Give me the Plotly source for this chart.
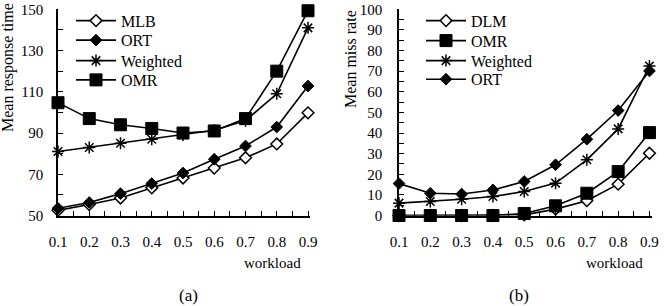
import plotly.graph_objects as go

W, H = 666, 306
workload = [0.1, 0.2, 0.3, 0.4, 0.5, 0.6, 0.7, 0.8, 0.9]

# (a) Mean response time
mlb_a = [52.5, 55.3, 58.5, 63.4, 68.2, 73.0, 78.0, 84.7, 99.8]
ort_a = [53.5, 56.3, 60.6, 65.5, 70.6, 77.3, 83.7, 92.9, 112.8]
weighted_a = [81.0, 83.0, 85.0, 87.0, 89.0, 91.3, 96.0, 109.0, 141.0]
omr_a = [104.7, 97.0, 94.0, 92.2, 90.0, 91.0, 97.0, 120.0, 149.3]

# (b) Mean miss rate
dlm_b = [0, 0, 0, 0, 0.3, 3.1, 7.2, 15.2, 30.2]
omr_b = [0, 0, 0, 0, 1.0, 4.7, 10.8, 21.3, 40.2]
weighted_b = [6.0, 6.8, 7.9, 9.2, 11.6, 15.7, 27.0, 42.0, 72.5]
ort_b = [15.5, 10.8, 10.4, 12.4, 16.5, 24.6, 37.0, 50.9, 70.1]

xtick_vals = workload
xtick_text = ["0.1", "0.2", "0.3", "0.4", "0.5", "0.6", "0.7", "0.8", "0.9"]
ya_ticks = [50, 70, 90, 110, 130, 150]
yb_ticks = [0, 10, 20, 30, 40, 50, 60, 70, 80, 90, 100]

FONT = "Liberation Serif"
BLACK = "black"


def px_x(p):
    return p / W


def px_y(p):
    return 1 - p / H


def styles(kind):
    if kind == "open":
        return dict(symbol="diamond", size=9, color="white", line=dict(color=BLACK, width=1.5))
    if kind == "diamond":
        return dict(symbol="diamond", size=9, color=BLACK, line=dict(color=BLACK, width=1))
    if kind == "star":
        return dict(symbol="asterisk-open", size=10, color=BLACK, line=dict(color=BLACK, width=1.5))
    return dict(symbol="square", size=12, color=BLACK, line=dict(color=BLACK, width=1))


fig = go.Figure()

series_a = [("MLB", mlb_a, "open"), ("ORT", ort_a, "diamond"),
            ("Weighted", weighted_a, "star"), ("OMR", omr_a, "square")]
series_b = [("DLM", dlm_b, "open"), ("OMR", omr_b, "square"),
            ("Weighted", weighted_b, "star"), ("ORT", ort_b, "diamond")]

# one single-entry legend per series so rows can be spaced like the original
legend_rows_a = [20.7, 40.2, 60.7, 80.0]
legend_rows_b = [20.7, 40.7, 60.7, 79.3]
legend_x_a = 71
legend_x_b = 421

legend_layout = {}
idx = 0
for (name, vals, kind), row in zip(series_a, legend_rows_a):
    idx += 1
    lid = "legend" if idx == 1 else f"legend{idx}"
    fig.add_trace(go.Scatter(x=workload, y=vals, name=name, mode="lines+markers",
                             line=dict(color=BLACK, width=1.6), marker=styles(kind),
                             cliponaxis=False, xaxis="x", yaxis="y", legend=lid))
    legend_layout[lid] = dict(x=px_x(legend_x_a), y=px_y(row))
for (name, vals, kind), row in zip(series_b, legend_rows_b):
    idx += 1
    lid = f"legend{idx}"
    fig.add_trace(go.Scatter(x=workload, y=vals, name=name, mode="lines+markers",
                             line=dict(color=BLACK, width=1.6), marker=styles(kind),
                             cliponaxis=False, xaxis="x2", yaxis="y2", legend=lid))
    legend_layout[lid] = dict(x=px_x(legend_x_b), y=px_y(row))

ydom = [px_y(215.5), px_y(9.3)]
tickfont = dict(family=FONT, size=15, color=BLACK)
axis_common = dict(showline=True, linecolor=BLACK, linewidth=1.6, showgrid=False,
                   zeroline=False, ticks="inside", ticklen=5, tickcolor=BLACK, tickwidth=1.4,
                   tickfont=tickfont, automargin=False)
minor_style = dict(ticks="inside", ticklen=5, tickcolor=BLACK, tickwidth=1.4)

legend_common = dict(xanchor="left", yanchor="middle", bgcolor="rgba(0,0,0,0)", borderwidth=0,
                     itemwidth=40, font=dict(family=FONT, size=16, color=BLACK))

fig.update_layout(
    width=W, height=H, margin=dict(l=0, r=0, t=0, b=0, pad=0, autoexpand=False),
    paper_bgcolor="white", plot_bgcolor="white",
    font=dict(family=FONT, size=15, color=BLACK),
    xaxis=dict(domain=[px_x(58), px_x(310)], range=[0.1, 0.9064], anchor="y",
               tickvals=xtick_vals, ticktext=xtick_text, ticklabelstandoff=12,
               minor=dict(dtick=0.05, tick0=0.1, **minor_style), **axis_common),
    yaxis=dict(domain=ydom, range=[50, 150], anchor="x",
               tickvals=ya_ticks, ticklabelstandoff=10,
               minor=dict(dtick=10, tick0=50, **minor_style), **axis_common),
    xaxis2=dict(domain=[px_x(399), px_x(652)], range=[0.1, 0.9081], anchor="y2",
                tickvals=xtick_vals, ticktext=xtick_text, ticklabelstandoff=12,
                minor=dict(dtick=0.05, tick0=0.1, **minor_style), **axis_common),
    yaxis2=dict(domain=ydom, range=[0, 100], anchor="x2",
                tickvals=yb_ticks, ticklabelstandoff=12,
                minor=dict(dtick=5, tick0=0, **minor_style), **axis_common),
    showlegend=True,
)
for lid, pos in legend_layout.items():
    fig.update_layout({lid: dict(**pos, **legend_common)})

annots = [
    dict(text="Mean response time", x=px_x(8), y=px_y(68), textangle=-90, size=16),
    dict(text="Mean miss rate", x=px_x(351), y=px_y(59), textangle=-90, size=16),
    dict(text="workload", x=px_x(272), y=px_y(263), textangle=0, size=15),
    dict(text="workload", x=px_x(614), y=px_y(263), textangle=0, size=15),
    dict(text="(a)", x=px_x(188), y=px_y(295), textangle=0, size=17),
    dict(text="(b)", x=px_x(519), y=px_y(295), textangle=0, size=17),
]
for a in annots:
    fig.add_annotation(text=a["text"], x=a["x"], y=a["y"], xref="paper", yref="paper",
                       xanchor="center", yanchor="middle", showarrow=False,
                       textangle=a["textangle"], font=dict(family=FONT, size=a["size"], color=BLACK))

fig.write_html("out.html")
